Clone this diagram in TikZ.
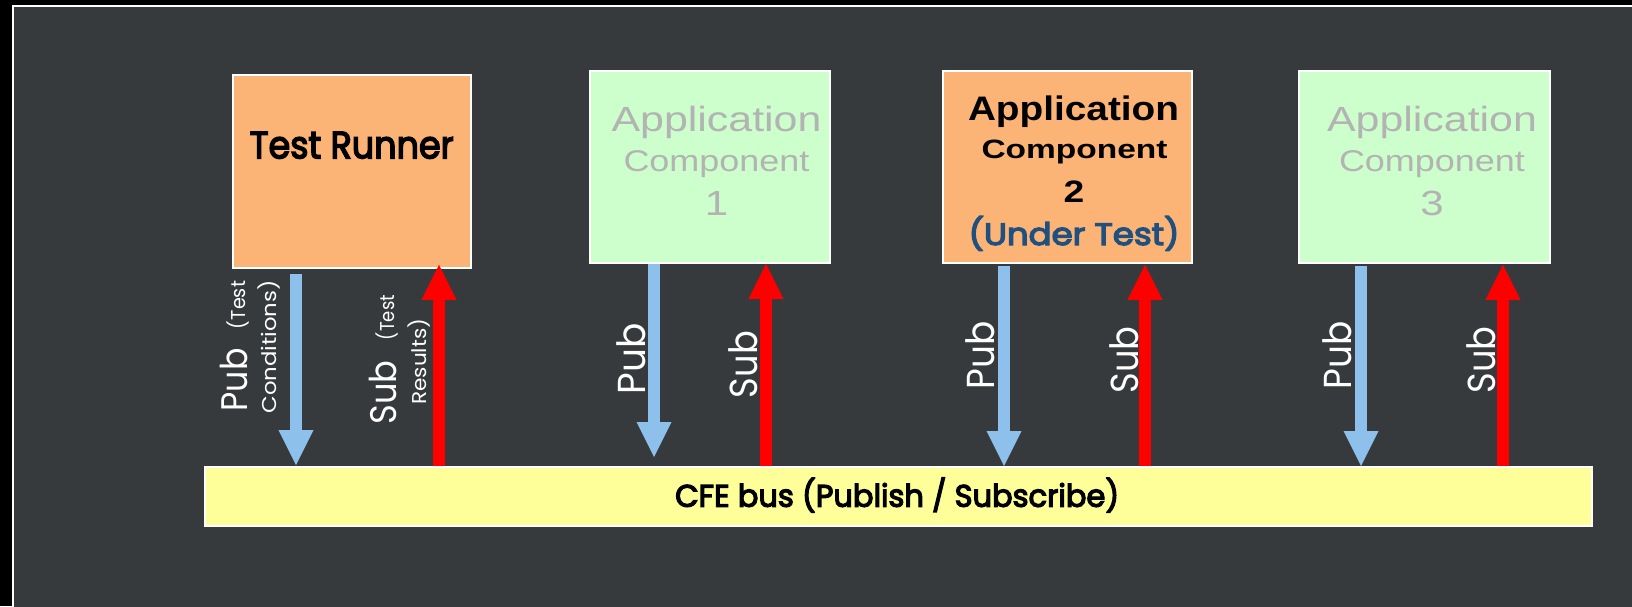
\documentclass[tikz,border=0pt]{standalone}
\usepackage{fontspec}
\setmainfont{Liberation Sans}
\newfontfamily\gothic{Poppins}
\newfontfamily\gothicmed{Poppins}[FakeBold=4]
\usepackage{graphicx}
\usetikzlibrary{arrows.meta}

\definecolor{panel}{RGB}{55,58,61}
\definecolor{boxorange}{RGB}{252,180,118}
\definecolor{boxgreen}{RGB}{204,255,204}
\definecolor{busyellow}{RGB}{255,255,153}
\definecolor{pubblue}{RGB}{141,192,235}
\definecolor{subred}{RGB}{255,0,0}
\definecolor{dimtext}{RGB}{179,179,179}
\definecolor{undertest}{RGB}{31,80,128}

% font size in pt
\newcommand\fs[1]{\fontsize{#1pt}{#1pt}\selectfont}
% text kept at its height, set to a given width
\newcommand\fitw[2]{\resizebox{#1pt}{\height}{#2}}

\begin{document}
\begin{tikzpicture}[x=1pt,y=-1pt,
  panelframe/.style={draw=white, line width=1.5pt, fill=panel},
  block/.style={draw=white, line width=1.8pt, inner sep=0pt, anchor=north west, minimum height=192pt},
  runner/.style={block, fill=boxorange},
  idle/.style={block, fill=boxgreen},
  tested/.style={block, fill=boxorange},
  busbar/.style={draw=white, line width=1.8pt, inner sep=0pt, anchor=north west,
                 fill=busyellow, minimum width=1387pt, minimum height=59pt},
  label/.style={inner sep=0pt, anchor=base},
  dimlabel/.style={label, text=dimtext},
  flowlabel/.style={inner sep=0pt, anchor=base, rotate=90, text=white},
  bigflow/.style={flowlabel, font=\gothic\fs{39}},
  midflow/.style={flowlabel, font=\gothic\fs{37}},
  smallflow/.style={flowlabel, font=\gothic\fs{20}},
  pubflow/.style={draw=pubblue, line width=12pt,
                  -{Triangle[width=35pt,length=35pt,line width=0pt]}},
  subflow/.style={draw=subred, line width=12pt,
                  -{Triangle[width=35pt,length=35pt,line width=0pt]}},
]
\useasboundingbox (0,0) rectangle (1632,606);
\clip (0,0) rectangle (1632,606);
\fill[black] (0,0) rectangle (1632,606);
\draw[panelframe] (13,6) rectangle (1660,640);

% components and bus
\node[runner, minimum width=238pt, minimum height=193pt] (tr) at (232,74) {};
\node[idle, minimum width=240pt] (app1) at (589,70) {};
\node[tested, minimum width=249pt] (app2) at (942,70) {};
\node[idle, minimum width=251pt] (app3) at (1298,70) {};
\node[busbar] (bus) at (204,466) {};

% component titles
\node[label, font=\gothicmed\fs{38}] (trname) at (351.7,158.3) {\fitw{204}{Test Runner}};

\node[dimlabel, font=\fs{35}] (a1name) at (716.5,131.7) {\fitw{210}{Application}};
\node[dimlabel, font=\fs{30}] (a1kind) at (716.5,171) {\fitw{186}{Component}};
\node[dimlabel, font=\fs{35}] (a1num) at (716.5,215.7) {\scalebox{1.2}[1]{1}};

\node[label, font=\bfseries\fs{34}] (a2name) at (1073.5,120) {\fitw{211}{Application}};
\node[label, font=\bfseries\fs{26.5}] (a2kind) at (1074.5,158.3) {\fitw{186}{Component}};
\node[label, font=\bfseries\fs{31}] (a2num) at (1074,202.7) {\scalebox{1.2}[1]{2}};
\node[label, text=undertest, font=\gothicmed\fs{31}] (a2note) at (1074,245) {\fitw{211}{(Under Test)}};

\node[dimlabel, font=\fs{35}] (a3name) at (1432,131.7) {\fitw{210}{Application}};
\node[dimlabel, font=\fs{30}] (a3kind) at (1432,171) {\fitw{186}{Component}};
\node[dimlabel, font=\fs{35}] (a3num) at (1432,215.7) {\scalebox{1.2}[1]{3}};

\node[label, font=\gothicmed\fs{31}] (buslabel) at (897.2,506.7) {\fitw{444}{CFE bus (Publish / Subscribe)}};

% arrow lanes
\coordinate (trpub) at (296,0);
\coordinate (trsub) at (439,0);
\coordinate (a1pub) at (654,0);
\coordinate (a1sub) at (766,0);
\coordinate (a2pub) at (1004,0);
\coordinate (a2sub) at (1145,0);
\coordinate (a3pub) at (1361,0);
\coordinate (a3sub) at (1503,0);

% publish: component -> bus
\draw[pubflow] ([yshift=-4.7pt]trpub |- tr.south) -- ([yshift=1pt]trpub |- bus.north);
\draw[pubflow] (a1pub |- app1.south) -- ([yshift=9pt]a1pub |- bus.north);
\draw[pubflow] ([yshift=-2pt]a2pub |- app2.south) -- (a2pub |- bus.north);
\draw[pubflow] ([yshift=-2pt]a3pub |- app3.south) -- (a3pub |- bus.north);

% subscribe: bus -> component
\draw[subflow] (trsub |- bus.north) -- ([yshift=4pt]trsub |- tr.south);
\draw[subflow] (a1sub |- bus.north) -- (a1sub |- app1.south);
\draw[subflow] (a2sub |- bus.north) -- ([yshift=-1pt]a2sub |- app2.south);
\draw[subflow] (a3sub |- bus.north) -- ([yshift=-1pt]a3sub |- app3.south);

% flow labels
\node[midflow] (trpubl) at (247,380) {\fitw{63}{Pub}};
\node[smallflow] (trpubn) at (245,305) {\fitw{48}{(Test}};
\node[smallflow] (trpubm) at (276,347) {\fitw{133}{Conditions)}};
\node[midflow] (trsubl) at (396.7,392.3) {\fitw{64}{Sub}};
\node[smallflow] (trsubn) at (394,317.5) {\fitw{45}{(Test}};
\node[smallflow] (trsubm) at (426,361.7) {\fitw{86}{Results)}};

\node[bigflow] (a1publ) at (645,359) {\fitw{71}{Pub}};
\node[bigflow] (a1subl) at (757.5,364.5) {\fitw{67}{Sub}};
\node[bigflow] (a2publ) at (994.4,355.3) {\fitw{68}{Pub}};
\node[bigflow] (a2subl) at (1138,360) {\fitw{67}{Sub}};
\node[bigflow] (a3publ) at (1351.5,355.3) {\fitw{68}{Pub}};
\node[bigflow] (a3subl) at (1495,360) {\fitw{67}{Sub}};
\end{tikzpicture}
\end{document}
